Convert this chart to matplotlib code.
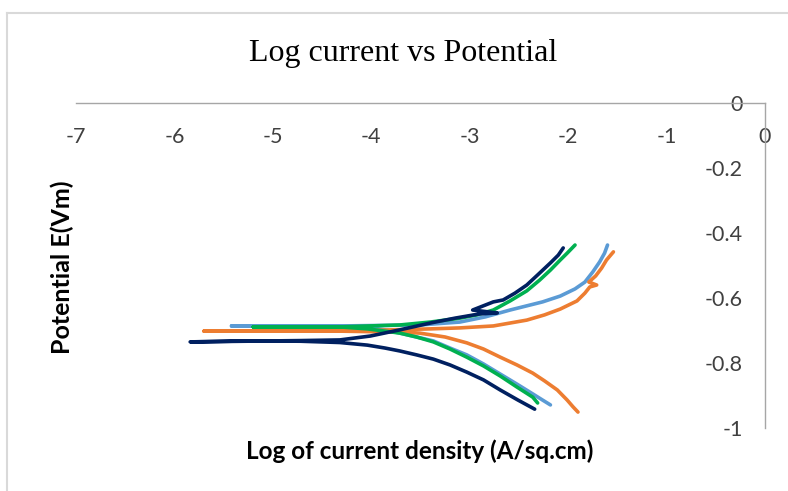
"""Log current vs Potential — Tafel curves, Excel-style axes crossing at (0, 0)."""
import matplotlib
matplotlib.use("Agg")
import matplotlib.pyplot as plt
from matplotlib.lines import Line2D

plt.rcParams.update({
    "font.family": "Lato",
    "axes.unicode_minus": False,
})

# log10 current density (x) and potential E (y) for each run,
# traced cathodic end -> Ecorr -> anodic end
lightblue_logi = [-2.18, -2.26, -2.36, -2.52, -2.69, -2.86, -3.03, -3.20, -3.37, -3.54,
                  -3.71, -3.86, -4.04, -4.32, -5.42,
                  -4.32, -3.51, -3.10, -2.84, -2.59, -2.26, -2.08, -1.93, -1.83,
                  -1.75, -1.68, -1.63, -1.60]
lightblue_E = [-0.929, -0.914, -0.895, -0.865, -0.834, -0.803, -0.775, -0.754, -0.732, -0.720,
               -0.708, -0.698, -0.692, -0.686, -0.686,
               -0.686, -0.683, -0.674, -0.658, -0.637, -0.612, -0.594, -0.572, -0.551,
               -0.520, -0.489, -0.462, -0.437]

orange_logi = [-1.90, -1.95, -2.01, -2.11, -2.24, -2.36, -2.52, -2.69, -2.86, -3.03,
               -3.25, -3.51, -3.71, -4.32, -5.70,
               -4.32, -3.40, -3.10, -2.76, -2.42, -2.24, -2.08, -1.91, -1.83, -1.78,
               -1.71, -1.79, -1.72, -1.66, -1.61, -1.54]
orange_E = [-0.951, -0.935, -0.914, -0.883, -0.855, -0.831, -0.806, -0.782, -0.757, -0.738,
            -0.720, -0.708, -0.705, -0.702, -0.702,
            -0.702, -0.695, -0.692, -0.686, -0.668, -0.652, -0.634, -0.609, -0.585, -0.566,
            -0.560, -0.551, -0.532, -0.508, -0.483, -0.458]

green_logi = [-2.31, -2.36, -2.52, -2.69, -2.86, -3.03, -3.20, -3.37, -3.54, -3.71,
              -3.86, -4.04, -4.32, -5.20,
              -4.32, -3.71, -3.40, -3.10, -2.93, -2.76, -2.59, -2.42, -2.29, -2.18,
              -2.08, -2.01, -1.93]
green_E = [-0.923, -0.905, -0.874, -0.840, -0.809, -0.782, -0.757, -0.735, -0.720, -0.708,
           -0.702, -0.695, -0.689, -0.689,
           -0.689, -0.683, -0.674, -0.662, -0.652, -0.637, -0.609, -0.578, -0.545, -0.514,
           -0.483, -0.462, -0.437]

navy_logi = [-2.34, -2.51, -2.69, -2.86, -3.03, -3.20, -3.37, -3.54, -3.71, -3.86,
             -4.04, -4.32, -4.72, -5.23, -5.84,
             -4.72, -4.32, -4.01, -3.71, -3.40, -3.15, -2.90, -2.72, -2.97, -2.76,
             -2.66, -2.54, -2.42, -2.31, -2.18, -2.10, -2.05]
navy_E = [-0.942, -0.914, -0.883, -0.852, -0.828, -0.806, -0.788, -0.775, -0.763, -0.754,
          -0.745, -0.737, -0.733, -0.732, -0.735,
          -0.731, -0.729, -0.717, -0.698, -0.677, -0.662, -0.649, -0.646, -0.637, -0.612,
          -0.606, -0.585, -0.560, -0.529, -0.492, -0.468, -0.446]

series = [
    (lightblue_logi, lightblue_E, "#5B9BD5"),
    (orange_logi, orange_E, "#ED7D31"),
    (green_logi, green_E, "#00B050"),
    (navy_logi, navy_E, "#002060"),
]

x_ticks = [-7, -6, -5, -4, -3, -2, -1, 0]
y_ticks = [0, -0.2, -0.4, -0.6, -0.8, -1]
y_ticklabels = ["0", "-0.2", "-0.4", "-0.6", "-0.8", "-1"]

W, H = 788, 491
fig = plt.figure(figsize=(W / 100, H / 100), dpi=100)
ax = fig.add_axes([76 / W, 1 - 428 / H, (765 - 76) / W, (428 - 103) / H])
ax.patch.set_alpha(0)

for xs, ys, col in series:
    ax.plot(xs, ys, color=col, lw=2.6, solid_capstyle="round",
            solid_joinstyle="round")

ax.set_xlim(-7, 0)
ax.set_ylim(-1, 0)

# axes cross at the origin, like the Excel original
ax.spines["bottom"].set_position(("data", 0))
ax.spines["left"].set_position(("data", 0))
for s in ("top", "right"):
    ax.spines[s].set_visible(False)
for s in ("bottom", "left"):
    ax.spines[s].set_color("#a6a6a6")
    ax.spines[s].set_linewidth(1.0)

ax.set_xticks(x_ticks)
ax.set_xticklabels([str(v) for v in x_ticks])
ax.set_yticks(y_ticks)
ax.set_yticklabels(y_ticklabels)
ax.tick_params(axis="both", length=0, labelsize=15.5, colors="#404040")
ax.tick_params(axis="x", pad=17)
ax.tick_params(axis="y", pad=16)

fig.text(403 / W, 1 - 54 / H, "Log current vs Potential",
         family="Liberation Serif", fontsize=23, ha="center", va="center")
fig.text(420 / W, 1 - 451 / H, "Log of current density (A/sq.cm)",
         fontsize=17.5, fontweight="bold", ha="center", va="center")
fig.text(62 / W, 1 - 267 / H, "Potential E(Vm)", rotation=90,
         fontsize=18, fontweight="bold", ha="center", va="center")

# chart-area border (only left and top edges fall inside the image)
fig.add_artist(Line2D([7 / W, 7 / W], [0, 1 - 13 / H], color="#d9d9d9",
                      lw=1.5, transform=fig.transFigure))
fig.add_artist(Line2D([7 / W, 1], [1 - 13 / H, 1 - 13 / H], color="#d9d9d9",
                      lw=1.5, transform=fig.transFigure))

fig.savefig("out.png", dpi=100)
